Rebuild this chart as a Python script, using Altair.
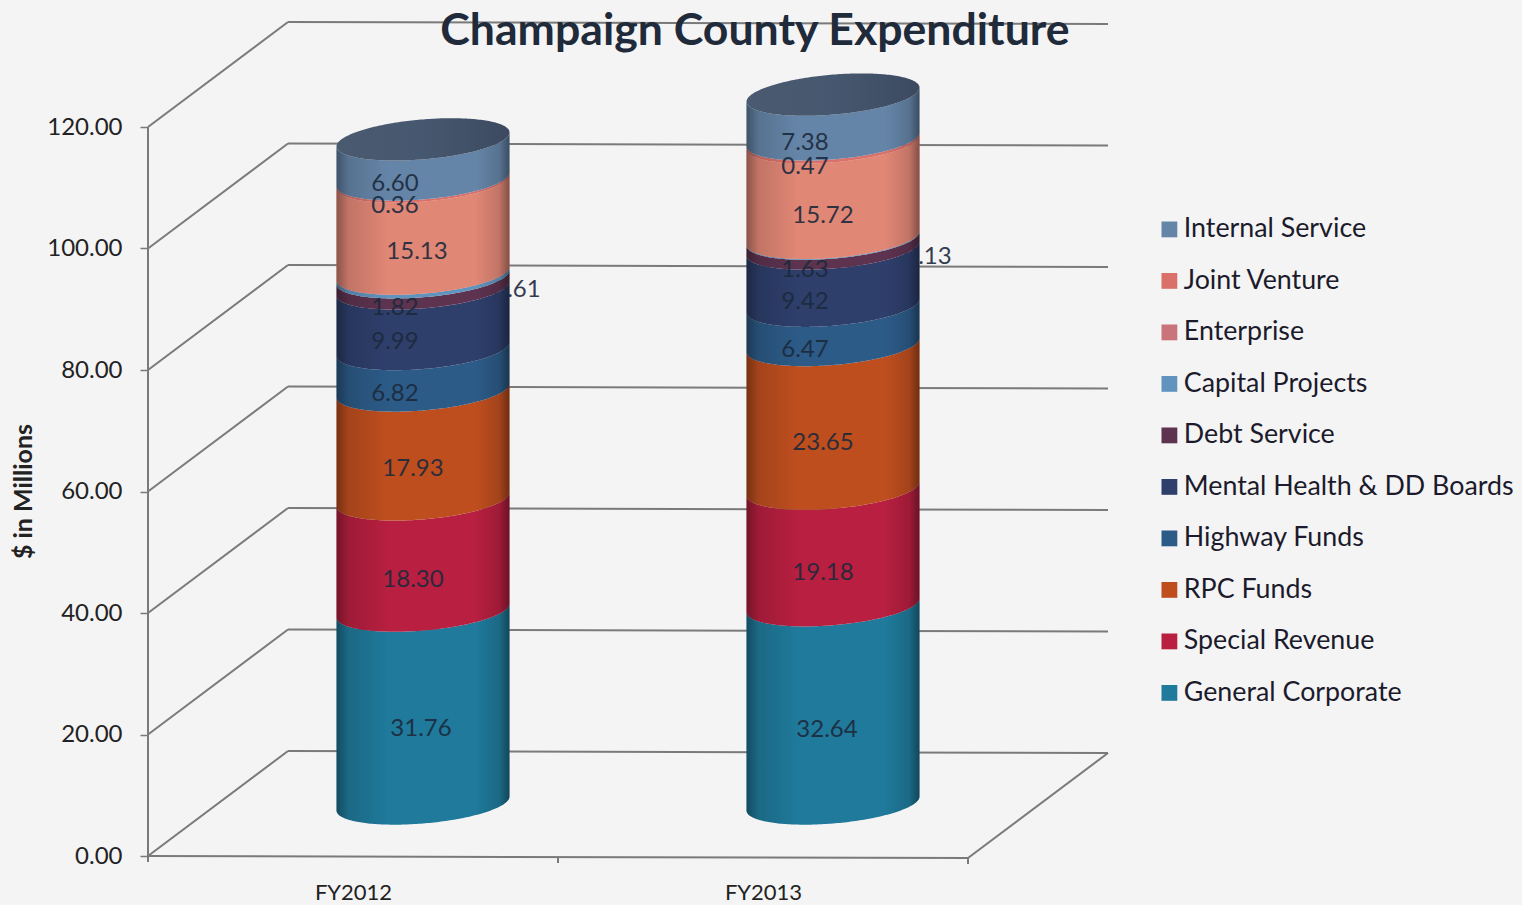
import numpy as np
import pandas as pd
import altair as alt

# ---- chart values ----
years = ["FY2012", "FY2013"]
funds = ["General Corporate", "Special Revenue", "RPC Funds", "Highway Funds",
         "Mental Health & DD Boards", "Debt Service", "Capital Projects",
         "Enterprise", "Joint Venture", "Internal Service"]
fy2012 = [31.76, 18.30, 17.93, 6.82, 9.99, 1.82, 0.61, 15.13, 0.36, 6.60]
fy2013 = [32.64, 19.18, 23.65, 6.47, 9.42, 1.63, 0.13, 15.72, 0.47, 7.38]
y_ticks = [0, 20, 40, 60, 80, 100, 120]
fund_colors = ["#1f7a9b", "#b81f40", "#bf4e1f", "#2c5b88", "#2e3f6c",
               "#5e3350", "#6094be", "#c9737a", "#d9706a", "#6585a8"]

# ---- pseudo-3D geometry, in pixels per data unit ----
PX_Y = 6.075
PX_X = 410.0
DEPTH_X = 140 / PX_X
DEPTH_Y = 105 / PX_Y
SAG = 2 / PX_Y
BASE = DEPTH_Y / 2
RX = 86.5 / PX_X
RY = 20 / PX_Y
TILT = 7 / PX_Y
X_MAX = 960 / PX_X
Y_MAX = 834 / PX_Y
FONT = "Lato"

theta = np.linspace(np.pi, 0, 121)
u = np.cos(theta)
s = np.sin(theta)


def centre(i):
    return i + 0.5 + DEPTH_X / 2


band_rows, body_rows, cap_rows, label_rows = [], [], [], []
# horizontal / vertical placement of each value label on the drum face
nudge_x = [[-2, -10, -10, -28, -28, -28, 94, -6, -28, -28],
           [-6, -10, -10, -28, -28, -28, 95, -10, -28, -28]]
nudge_y = [[22, 25, 24, 24, 23, 25, 15, 24, 25, 25],
           [26, 26, 26, 25, 25, 26, 19, 26, 26, 26]]

for i, (year, vals) in enumerate(zip(years, [fy2012, fy2013])):
    c = centre(i)
    tops = np.cumsum(vals)
    bottoms = tops - np.array(vals)
    for j, fund in enumerate(funds):
        for uu, ss in zip(u, s):
            curve = BASE + TILT * uu - RY * ss
            band_rows.append({"year": year, "fund": fund, "x": c + RX * uu,
                              "y": bottoms[j] + curve, "y2": tops[j] + curve})
        label_rows.append({"year": year, "text": f"{vals[j]:.2f}",
                           "x": c + nudge_x[i][j] / PX_X,
                           "y": (bottoms[j] + tops[j]) / 2 + BASE - nudge_y[i][j] / PX_Y,
                           "behind": fund == "Capital Projects"})
    for uu, ss in zip(u, s):
        body_rows.append({"year": year, "x": c + RX * uu,
                          "y": BASE + TILT * uu - RY * ss,
                          "y2": tops[-1] + BASE + TILT * uu - RY * ss})
        cap_rows.append({"year": year, "x": c + RX * uu,
                         "y": tops[-1] + BASE + TILT * uu - RY * ss,
                         "y2": tops[-1] + BASE + TILT * uu + RY * ss})

bands = pd.DataFrame(band_rows)
body = pd.DataFrame(body_rows)
cap = pd.DataFrame(cap_rows)
labels = pd.DataFrame(label_rows)

# walls, floor and axis lines
wall_rows = []
for t in y_ticks:
    wall_rows.append({"x": 0, "x2": DEPTH_X, "y": t, "y2": t + DEPTH_Y})
    wall_rows.append({"x": DEPTH_X, "x2": X_MAX, "y": t + DEPTH_Y, "y2": t + DEPTH_Y - SAG})
wall_rows.append({"x": 0, "x2": 0, "y": 0, "y2": y_ticks[-1]})
wall_rows.append({"x": 0, "x2": 2, "y": 0, "y2": -SAG})
wall_rows.append({"x": 2, "x2": X_MAX, "y": -SAG, "y2": DEPTH_Y - SAG})
for k in range(3):
    wall_rows.append({"x": k, "x2": k, "y": -SAG * k / 2, "y2": -SAG * k / 2 - 1})
walls = pd.DataFrame(wall_rows)

# ---- scales and axes ----
x_scale = alt.Scale(domain=[0, X_MAX], nice=False, zero=False)
y_scale = alt.Scale(domain=[0, Y_MAX], nice=False, zero=False)

x_axis = alt.Axis(values=[0.5, 1.5], title=None, grid=False, domain=False, ticks=False,
                  labelExpr=f"datum.value < 1 ? '{years[0]}' : '{years[1]}'",
                  labelFont=FONT, labelFontSize=22, labelColor="#222222",
                  labelPadding=26, labelFlush=False)
y_axis = alt.Axis(values=y_ticks, title="$ in Millions", format=".2f", grid=False, domain=False,
                  tickColor="#7a7a7a", tickSize=8, tickWidth=1.5,
                  labelFont=FONT, labelFontSize=24, labelColor="#222222", labelPadding=18,
                  titleFont=FONT, titleFontSize=25, titleFontWeight="bold", titleColor="#222222",
                  titleX=-112, titleY=469)
x_enc = alt.X("x:Q", scale=x_scale, axis=x_axis)
y_enc = alt.Y("y:Q", scale=y_scale, axis=y_axis)

frame = alt.Chart(walls).mark_rule(color="#7a7a7a", strokeWidth=2).encode(
    x=x_enc, x2="x2:Q", y=y_enc, y2="y2:Q")


def value_text(rows):
    return alt.Chart(rows).mark_text(font=FONT, fontSize=24, color="#1c2a3c", opacity=0.9,
                                     baseline="middle", align="center").encode(
        x=x_enc, y=y_enc, text="text:N")


behind_text = value_text(labels[labels["behind"]])
front_text = value_text(labels[~labels["behind"]])

legend_order = funds[::-1]
legend_colors = fund_colors[::-1]
band_layer = alt.Chart(bands).mark_area(orient="vertical").encode(
    x=x_enc,
    y=y_enc,
    y2="y2:Q",
    detail="year:N",
    color=alt.Color("fund:N",
                    scale=alt.Scale(domain=legend_order, range=legend_colors),
                    legend=alt.Legend(orient="none", legendX=1008, legendY=194, title=None,
                                      symbolType="square", symbolSize=250, symbolStrokeWidth=0,
                                      labelFont=FONT, labelFontSize=26.8, labelColor="#1b1b2b",
                                      labelOffset=1, rowPadding=23.5, padding=0, labelLimit=400)),
)

# the lit face of the salmon band reads paler than its key swatch
glow_layer = alt.Chart(bands[bands["fund"] == "Enterprise"]).mark_area(
    orient="vertical", color="#ffa070", opacity=0.45).encode(
    x=x_enc, y=y_enc, y2="y2:Q", detail="year:N")

# cylinder shading: dark rims, lit centre
shade = alt.Gradient(gradient="linear", x1=0, x2=1, y1=0, y2=0, stops=[
    alt.GradientStop(offset=0, color="rgba(0,0,0,0.38)"),
    alt.GradientStop(offset=0.07, color="rgba(0,0,0,0.14)"),
    alt.GradientStop(offset=0.3, color="rgba(0,0,0,0)"),
    alt.GradientStop(offset=0.8, color="rgba(0,0,0,0)"),
    alt.GradientStop(offset=0.94, color="rgba(0,0,0,0.14)"),
    alt.GradientStop(offset=1, color="rgba(0,0,0,0.42)"),
])
shade_layer = alt.Chart(body).mark_area(orient="vertical", color=shade).encode(
    x=x_enc, y=y_enc, y2="y2:Q", detail="year:N")

cap_fill = alt.Gradient(gradient="linear", x1=0, x2=1, y1=0, y2=0, stops=[
    alt.GradientStop(offset=0, color="#4a5a70"),
    alt.GradientStop(offset=0.5, color="#46586f"),
    alt.GradientStop(offset=1, color="#3c4a60"),
])
cap_layer = alt.Chart(cap).mark_area(orient="vertical", color=cap_fill).encode(
    x=x_enc, y=y_enc, y2="y2:Q", detail="year:N")

chart = alt.layer(frame, behind_text, band_layer, glow_layer, shade_layer, cap_layer,
                  front_text).properties(
    width=960,
    height=834,
    padding={"left": 148, "top": 22, "right": 414, "bottom": 49},
    autosize=alt.AutoSizeParams(type="none"),
    background="#f5f4f5",
    title=alt.TitleParams("Champaign County Expenditure", font=FONT, fontSize=44.6, fontWeight="bold",
                          color="#1f2a3a", anchor="middle", dx=127, dy=82, baseline="bottom"),
).configure_view(stroke=None)

chart.save("out.html", embed_options={"renderer": "svg", "actions": False})
